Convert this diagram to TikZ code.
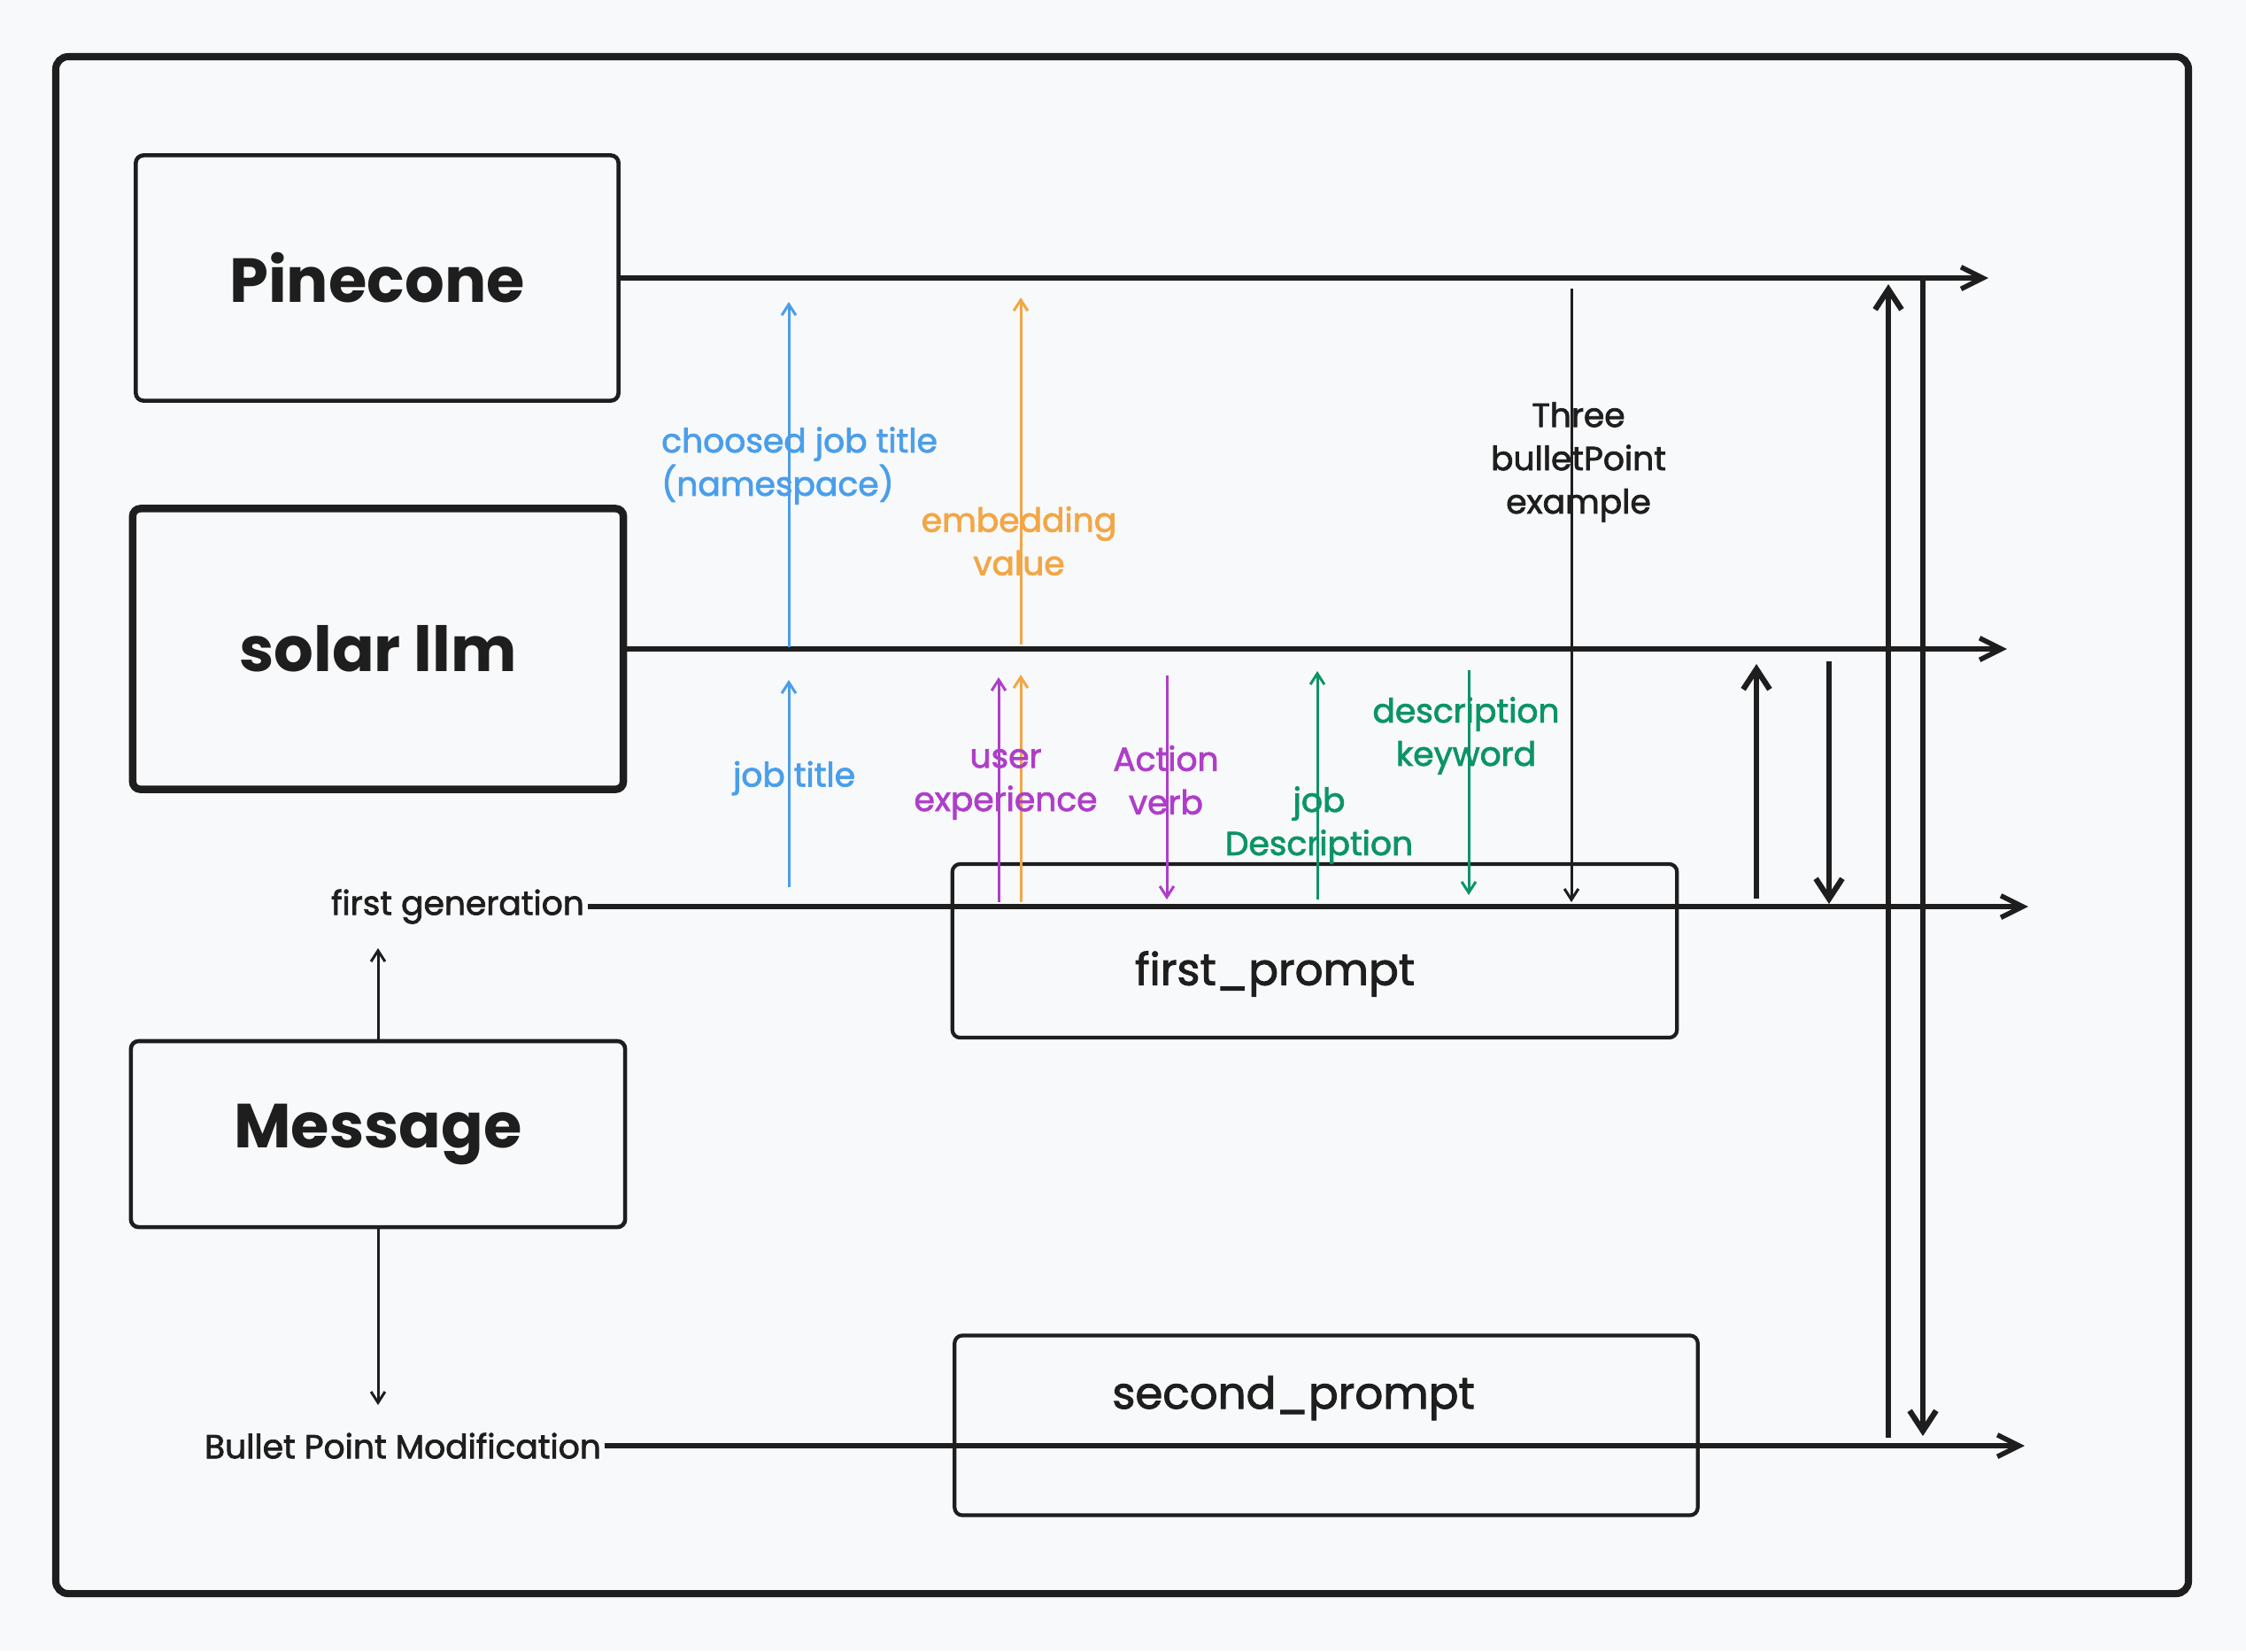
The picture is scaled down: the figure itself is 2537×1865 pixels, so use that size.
\documentclass[tikz,border=0pt]{standalone}
\usepackage[rgb]{xcolor}
\usepackage{tikz}
\usepackage{fontspec}
\setmainfont{Poppins}
\newfontfamily\tagfont{Poppins}[FakeBold=2]
\usetikzlibrary{arrows.meta}

\definecolor{ink}{HTML}{1E1E1E}
\definecolor{paper}{HTML}{F8F9FA}
\definecolor{nsblue}{HTML}{4A9EEA}
\definecolor{embedorange}{HTML}{F2A645}
\definecolor{promptpurple}{HTML}{AE3EC9}
\definecolor{descgreen}{HTML}{0C9466}

\tikzset{
  bigbox/.style={draw=ink, line width=1.3pt, rounded corners=2.5pt, inner sep=0pt,
    text=ink, font=\fontsize{20}{24}\selectfont\bfseries},
  promptbox/.style={draw=ink, line width=1.2pt, rounded corners=2.5pt, inner sep=0pt},
  prompttext/.style={text=ink, font=\tagfont\fontsize{14.2}{18}\selectfont},
  tag/.style={font=\tagfont\fontsize{10.7}{13.9}\selectfont, align=center, inner sep=1pt},
  mainarrow/.style={draw=ink, line width=1.6pt, -{Straight Barb[length=7pt,width=7pt]}},
  feedarrow/.style={draw=ink, line width=1.8pt, -{Straight Barb[length=6.5pt,width=8.5pt]}},
  thinarrow/.style={line width=0.85pt, -{Straight Barb[length=3.5pt,width=4.5pt]}},
}

\begin{document}
\begin{tikzpicture}[x=0.01cm, y=-0.01cm]

% canvas
\fill[paper] (0,0) rectangle (2537,1865);
\useasboundingbox (0,0) rectangle (2537,1865);

% outer frame
\draw[ink, line width=2.3pt, rounded corners=4pt] (63,64) rectangle (2472,1800);

%
% Boxes left
%
\node[bigbox, minimum width=5.45cm, minimum height=2.77cm] (pinecone) at (426,314) {Pinecone};

\node[bigbox, line width=2.4pt, minimum width=5.54cm, minimum height=3.17cm] (solar) at (427,733) {solar llm};

\node[bigbox, minimum width=5.58cm, minimum height=2.10cm] (message) at (427,1281) {Message};


%
% Prompt boxes
%
\node[promptbox, minimum width=8.18cm, minimum height=1.96cm] (firstprompt) at (1485,1074) {};
\node[prompttext] (firstprompttext) at (1440,1100) {first\_prompt};

\node[promptbox, minimum width=8.39cm, minimum height=2.03cm] (secondprompt) at (1498,1610) {};
\node[prompttext] (secondprompttext) at (1461,1579) {second\_prompt};


%
% Message outputs
%
\node[tag, text=ink] (firstgen) at (517,1024) {first generation};
\node[tag, text=ink] (bulletmod) at (455,1633) {Bullet Point Modification};

\path (428,1071) coordinate (firstgenin)
      (428,1587) coordinate (bulletmodin);
\draw[thinarrow, ink] (message.north) -- (message.north |- firstgenin);
\draw[thinarrow, ink] (message.south) -- (message.south |- bulletmodin);


%
% Main lines
%
\path (2246,308) coordinate (pineconeend)
      (2267,736) coordinate (solarend)
      (2291,1026) coordinate (firstgenend)
      (2287,1634) coordinate (bulletmodend);

\draw[mainarrow] (pinecone.east) -- (pinecone.east -| pineconeend);
\draw[mainarrow] (solar.east) -- (solar.east -| solarend);
\draw[mainarrow] (firstgen.east) -- (firstgen.east -| firstgenend);
\draw[mainarrow] (bulletmod.east) -- (bulletmod.east -| bulletmodend);


%
% Inputs into solar llm
%

% job title
\path (891,1002) coordinate (jobtitle0)
      (891,768) coordinate (jobtitle1);
\draw[thinarrow, nsblue] (jobtitle0) -- (jobtitle1);

% user experience
\path (1128,1019) coordinate (userexp0)
      (1128,765) coordinate (userexp1);
\draw[thinarrow, promptpurple] (userexp0) -- (userexp1);

% embedding (lower)
\path (1153,1019) coordinate (embedlow0)
      (1153,762) coordinate (embedlow1);
\draw[thinarrow, embedorange] (embedlow0) -- (embedlow1);

% action verb
\path (1318,763) coordinate (action0)
      (1318,1016) coordinate (action1);
\draw[thinarrow, promptpurple] (action0) -- (action1);

% job description
\path (1488,1016) coordinate (jobdesc0)
      (1488,758) coordinate (jobdesc1);
\draw[thinarrow, descgreen] (jobdesc0) -- (jobdesc1);

% description keyword
\path (1659,757) coordinate (desckey0)
      (1659,1011) coordinate (desckey1);
\draw[thinarrow, descgreen] (desckey0) -- (desckey1);


%
% Into Pinecone
%

% choosed job title
\path (891,731) coordinate (choosed0)
      (891,341) coordinate (choosed1);
\draw[thinarrow, nsblue] (choosed0) -- (choosed1);

% embedding value
\path (1153,728) coordinate (embedup0)
      (1153,336) coordinate (embedup1);
\draw[thinarrow, embedorange] (embedup0) -- (embedup1);

% three bulletPoint example
\path (1775,326) coordinate (three0)
      (1775,1019) coordinate (three1);
\draw[thinarrow, ink] (three0) -- (three1);


%
% Feedback arrows right
%
\path (1984,1015) coordinate (fbup0)
      (1984,750) coordinate (fbup1)
      (2066,747) coordinate (fbdown0)
      (2066,1021) coordinate (fbdown1)
      (2133,1624) coordinate (longup0)
      (2133,321) coordinate (longup1)
      (2172,312) coordinate (longdown0)
      (2172,1622) coordinate (longdown1);

\draw[feedarrow] (fbup0) -- (fbup1);
\draw[feedarrow] (fbdown0) -- (fbdown1);
\draw[feedarrow] (longup0) -- (longup1);
\draw[feedarrow] (longdown0) -- (longdown1);


%
% Labels
%
\node[tag, text=nsblue, align=left, anchor=west] (choosedlbl) at (743,526) {choosed job title\\(namespace)};
\node[tag, text=embedorange] (embedlbl) at (1151,611) {embedding\\value};
\node[tag, text=ink] (threelbl) at (1783,522) {Three\\bulletPoint\\example};

\node[tag, text=nsblue] (jobtitlelbl) at (897,879) {job title};
\node[tag, text=promptpurple] (userexplbl) at (1136,886) {user\\experience};
\node[tag, text=promptpurple] (actionlbl) at (1317,881) {Action\\verb};
\node[tag, text=descgreen] (jobdesclbl) at (1490,932) {job\\Description};
\node[tag, text=descgreen] (desckeylbl) at (1656,831) {description\\keyword};

\end{tikzpicture}
\end{document}
